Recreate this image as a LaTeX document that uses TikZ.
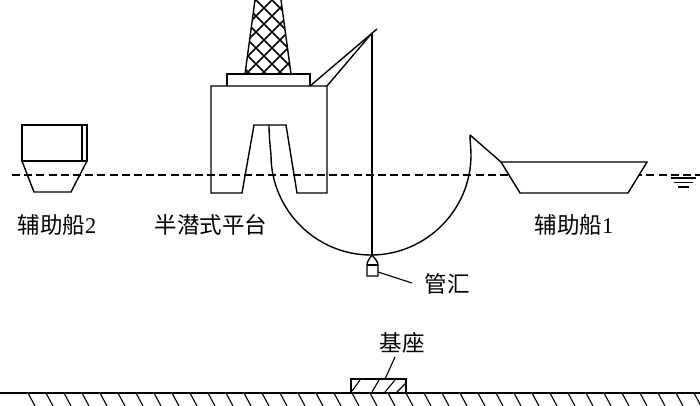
\documentclass[tikz,border=0pt]{standalone}
\usepackage{xcolor}
\usepackage{fontspec}
\usepackage{tikz}
\setmainfont{Liberation Serif}
\newfontfamily\cjk{Noto Sans CJK SC}
\tikzset{
  trait/.style={line width=1.4pt, line join=miter},
  fin/.style={line width=1.1pt},
  etiquette/.style={font=\fontsize{22.5}{26}\selectfont, inner sep=0pt},
}

\begin{document}
\begin{tikzpicture}[x=1pt, y=-1pt]
    \useasboundingbox (0,0) rectangle (700,406);
    % niveau de la mer
    \draw[trait, dash pattern=on 8pt off 4.2pt] (12,175) -- (700,175);
    \foreach \xa/\xb/\y in {671/696/178, 674/693/182.5, 678/689/187} {
      \draw[fin] (\xa,\y) -- (\xb,\y);
    }
    % plate-forme
    \draw[trait] (211,193) -- (211,86) -- (327,86) -- (327,193) -- (297,193) -- (286,125) -- (254,125) -- (242,193) -- cycle;
    \draw[trait] (227,86) -- (227,74) -- (310,74) -- (310,86);
    \begin{scope}
      \clip (245,74) -- (255,0) -- (281,0) -- (291,74) -- cycle;
      \foreach \d in {-64,-48,...,288} {
        \draw[line width=1.6pt] (\d,0) -- (\d+80,80);
        \draw[line width=1.6pt] (\d+80,0) -- (\d,80);
      }
    \end{scope}
    \draw[trait] (245,74) -- (255,0);
    \draw[trait] (281,0) -- (291,74);
    \coordinate (grueA) at (310,86);
    \coordinate (grueB) at (327,86);
    \coordinate (grueH) at (372,33);
    \coordinate (grueP) at (377,29);
    \draw[trait] (grueA) -- (grueP);
    \draw[trait] (grueB) -- (grueH);
    % conduite
    \coordinate (piedG) at (269,125);
    \coordinate (piedD) at (470,135);
    \coordinate (bas) at (372,255);
    \draw[trait] (grueH) -- (bas);
    \draw[trait] (piedG) .. controls (269,135) and (270,145) .. (271,155)
      .. controls (271,210) and (316,255) .. (371,255)
      .. controls (426,255) and (471,210) .. (471,155)
      .. controls (471,148) and (470,142) .. (piedD);
    % navires
    \draw[trait, fill=white] (501,162) -- (647,162) -- (628,193) -- (520,193) -- cycle;
    \draw[trait] (piedD) -- (501,162);
    \draw[trait] (22,125) rectangle (87,161);
    \draw[trait] (82,125) -- (82,161);
    \draw[trait] (22,161) -- (34,192) -- (71,192) -- (87,161);
    % collecteur
    \draw[trait, fill=white] (367,265) .. controls (367,261) and (370,258) .. (bas)
      .. controls (374,258) and (378,261) .. (378,265) -- (378,276) -- (367,276) -- cycle;
    \draw[fin] (367,265) -- (378,265);
    \coordinate (collecteur) at (378,272);
    \node[etiquette] (manifold) at (447,284) {\cjk 管汇};
    \draw[fin] (collecteur) -- (412,283);
    % fond marin et embase
    \draw[trait] (0,393) -- (700,393);
    \foreach \x in {28,46,...,694} {
      \draw[fin] (\x,393) -- (\x+7,406);
    }
    \draw[trait] (351,393) -- (351,379) -- (406,379) -- (406,393);
    \foreach \xa/\ya/\xb/\yb in {352/391/360/380, 372/392/379/380, 385/392/395/380, 397/392/406/383} {
      \draw[fin] (\xa,\ya) -- (\xb,\yb);
    }
    \node[etiquette] (embase) at (402,343) {\cjk 基座};
    \coordinate (embaseH) at (385,379);
    \draw[fin] (395,357) -- (embaseH);
    % noms
    \node[etiquette] (navireB) at (57,225) {{\cjk 辅助船}2};
    \node[etiquette] (plateforme) at (211,225) {\cjk 半潜式平台};
    \node[etiquette] (navireA) at (574,225) {{\cjk 辅助船}1};
\end{tikzpicture}
\end{document}
